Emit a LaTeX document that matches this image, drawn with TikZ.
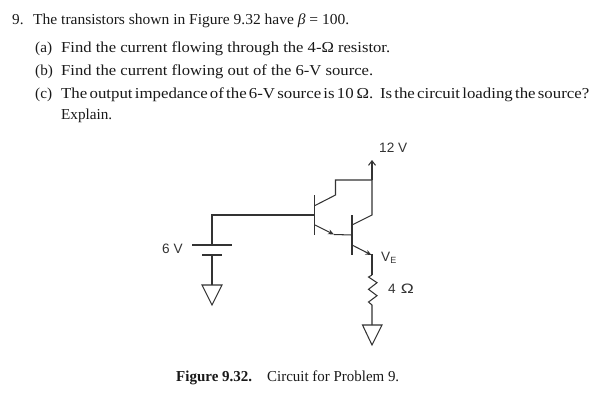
\documentclass[tikz,border=0pt]{standalone}
\usepackage{fontspec}
\usepackage{graphicx}
\setmainfont{Liberation Serif}
\newfontfamily\labelfont{Liberation Sans}
\usetikzlibrary{arrows.meta}
\newcommand{\fit}[2]{\resizebox{#1pt}{\height}{#2}}
\tikzset{
  wire/.style={line width=1.05pt,draw=black!80,line join=miter},
  bar/.style={line width=1.2pt,draw=black!80},
  body/.style={anchor=base west,inner sep=0pt,font=\fontsize{15.2}{17}\selectfont,text=black!90},
  lab/.style={anchor=base west,inner sep=0pt,font=\labelfont\fontsize{13.6}{15}\selectfont,text=black!80},
  tip/.style={-{Stealth[length=6pt,width=5pt]}},
  open/.style={-{Straight Barb[length=4.5pt,width=7pt]}},
}
\begin{document}
\begin{tikzpicture}[x=1pt,y=-1pt]
\useasboundingbox (0,0) rectangle (601,400);
% text
\node[body] (n1) at (12,24) {9.};
\node[body] (l1) at (33,24) {\fit{316}{The transistors shown in Figure 9.32 have \textit{β} = 100.}};
\node[body] (a) at (35,52) {(a)};
\node[body] (l2) at (61,52) {\fit{329}{Find the current flowing through the 4-Ω resistor.}};
\node[body] (b) at (35,75) {(b)};
\node[body] (l3) at (61,75) {\fit{312}{Find the current flowing out of the 6-V source.}};
\node[body] (c) at (35,98) {(c)};
\node[body] (l4) at (61,98) {\fit{528}{\spaceskip=0.13em The output impedance of the 6-V source is 10\,Ω.\hspace{0.4em}Is the circuit loading the source?}};
\node[body] (l5) at (61,119) {Explain.};
\node[body] (cap1) at (176,381) {\fit{76}{\textbf{Figure 9.32.}}};
\node[body] (cap2) at (267,381) {\fit{132}{Circuit for Problem 9.}};
% labels
\node[lab] (v12) at (379,152) {12 V};
\node[lab] (v6) at (162,253) {6 V};
\node[lab] (ve) at (381,261) {V\raisebox{-2pt}{\fontsize{9}{10}\selectfont E}};
\node[lab] (r4) at (388,293) {4\hspace{0.1em} \fit{13}{Ω}};
% coordinates
\coordinate (top) at (372,160);
\coordinate (j) at (372,180);
\coordinate (cl) at (335.5,180);
\coordinate (c1e) at (335.5,195);
\coordinate (c1) at (315,205.5);
\coordinate (b1) at (314.5,215);
\coordinate (e1) at (315,225);
\coordinate (e1t) at (334,234.5);
\coordinate (b2) at (352,235);
\coordinate (c2) at (352,225);
\coordinate (c2t) at (372,215);
\coordinate (e2) at (352,245);
\coordinate (e2t) at (371.5,255);
\coordinate (rt) at (372,275);
\coordinate (rb) at (372,305);
\coordinate (g2) at (372,325);
\coordinate (bw) at (212,215);
\coordinate (p1) at (212,245);
\coordinate (p2) at (212,255);
\coordinate (g1) at (212,285);
% transistors
\draw[bar] (314.5,195) -- (314.5,235);
\draw[bar] (352,215) -- (352,255);
\draw[wire,open] (j) -- (top);
\draw[wire] (j) -- (cl) -- (c1e) -- (c1);
\draw[wire] (j) -- (c2t) -- (c2);
\draw[wire] (p1) -- (bw) -- (b1);
\draw[wire,tip] (e1) -- (e1t);
\draw[wire] (e1t) -- (b2);
\draw[wire,tip] (e2) -- (e2t);
\draw[wire] (372,254) -- (rt);
% battery
\draw[wire] (192,245) -- (232,245);
\draw[wire] (202,255) -- (222,255);
\draw[wire] (p2) -- (g1);
\draw[wire] (202,285) -- (222,285) -- (212,305) -- cycle;
% resistor
\draw[wire] (rt) -- (368.5,277) -- (377,282.7) -- (368.5,289.3) -- (377,295.7) -- (368.5,302) -- (rb) -- (g2);
\draw[wire] (362.5,325) -- (382,325) -- (372,345) -- cycle;
\end{tikzpicture}
\end{document}
